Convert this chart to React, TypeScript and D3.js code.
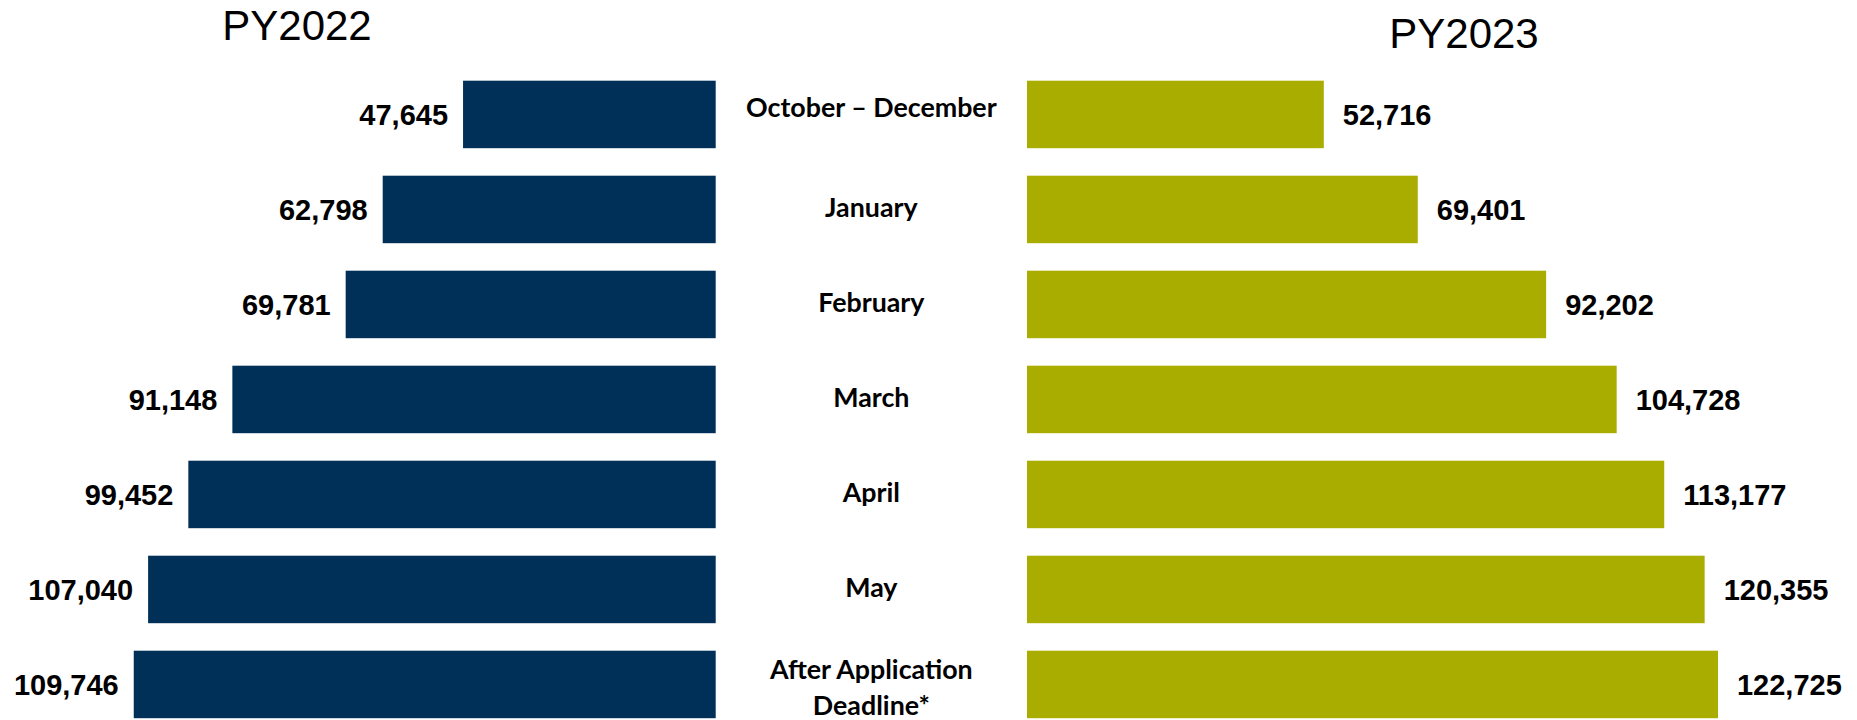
import React from "react";
import * as d3 from "d3";

const categories: string[][] = [
  ["October – December"],
  ["January"],
  ["February"],
  ["March"],
  ["April"],
  ["May"],
  ["After Application", "Deadline*"],
];
const py2022: number[] = [47645, 62798, 69781, 91148, 99452, 107040, 109746];
const py2023: number[] = [52716, 69401, 92202, 104728, 113177, 120355, 122725];
const titles = ["PY2022", "PY2023"];

const W = 1857;
const H = 720;
const NAVY = "#003057";
const OLIVE = "#A9AD00";
const VAL_FONT = "'Liberation Sans', Arial, sans-serif";
const CAT_FONT = "Lato, 'Open Sans', sans-serif";

export default function App() {
  const keys = categories.map((c) => c.join(" "));
  const y = d3
    .scaleBand<string>()
    .domain(keys)
    .range([80.7, 718.2])
    .paddingInner(0.2895)
    .paddingOuter(0);
  const leftEdge = 715.7;
  const rightEdge = 1027;
  const xL = d3.scaleLinear().domain([0, 110000]).range([0, 583.3]);
  const xR = d3.scaleLinear().domain([0, 125000]).range([0, 703.8]);
  const fmt = d3.format(",");
  const bw = y.bandwidth();
  const midX = (leftEdge + rightEdge) / 2;

  return (
    <svg
      width={W}
      height={H}
      style={{ position: "absolute", left: 0, top: 0, background: "#fff" }}
    >
      <text x={297} y={40} fontFamily={VAL_FONT} fontSize={42} textAnchor="middle" fill="#000">
        {titles[0]}
      </text>
      <text x={1464} y={48.3} fontFamily={VAL_FONT} fontSize={42} textAnchor="middle" fill="#000">
        {titles[1]}
      </text>
      {keys.map((k, i) => {
        const y0 = y(k)!;
        const cy = y0 + bw / 2;
        const lw = xL(py2022[i]);
        const rw = xR(py2023[i]);
        const lines = categories[i];
        const shift = i === 0 ? -5 : 0;
        return (
          <g key={k}>
            <rect x={leftEdge - lw} y={y0} width={lw} height={bw} fill={NAVY} />
            <rect x={rightEdge} y={y0} width={rw} height={bw} fill={OLIVE} />
            <text
              x={leftEdge - lw - 15}
              y={cy + 10.5}
              textAnchor="end"
              fontFamily={VAL_FONT}
              fontWeight="bold"
              fontSize={29}
              fill="#000"
            >
              {fmt(py2022[i])}
            </text>
            <text
              x={rightEdge + rw + 19}
              y={cy + 10.5}
              textAnchor="start"
              fontFamily={VAL_FONT}
              fontWeight="bold"
              fontSize={29}
              fill="#000"
            >
              {fmt(py2023[i])}
            </text>
            {lines.map((ln, j) => (
              <text
                key={ln}
                x={midX}
                y={lines.length === 1 ? cy + 8 + shift : cy - 5.5 + j * 35.7}
                textAnchor="middle"
                fontFamily={CAT_FONT}
                fontWeight="bold"
                fontSize={26.8}
                fill="#000"
              >
                {ln}
              </text>
            ))}
          </g>
        );
      })}
    </svg>
  );
}
